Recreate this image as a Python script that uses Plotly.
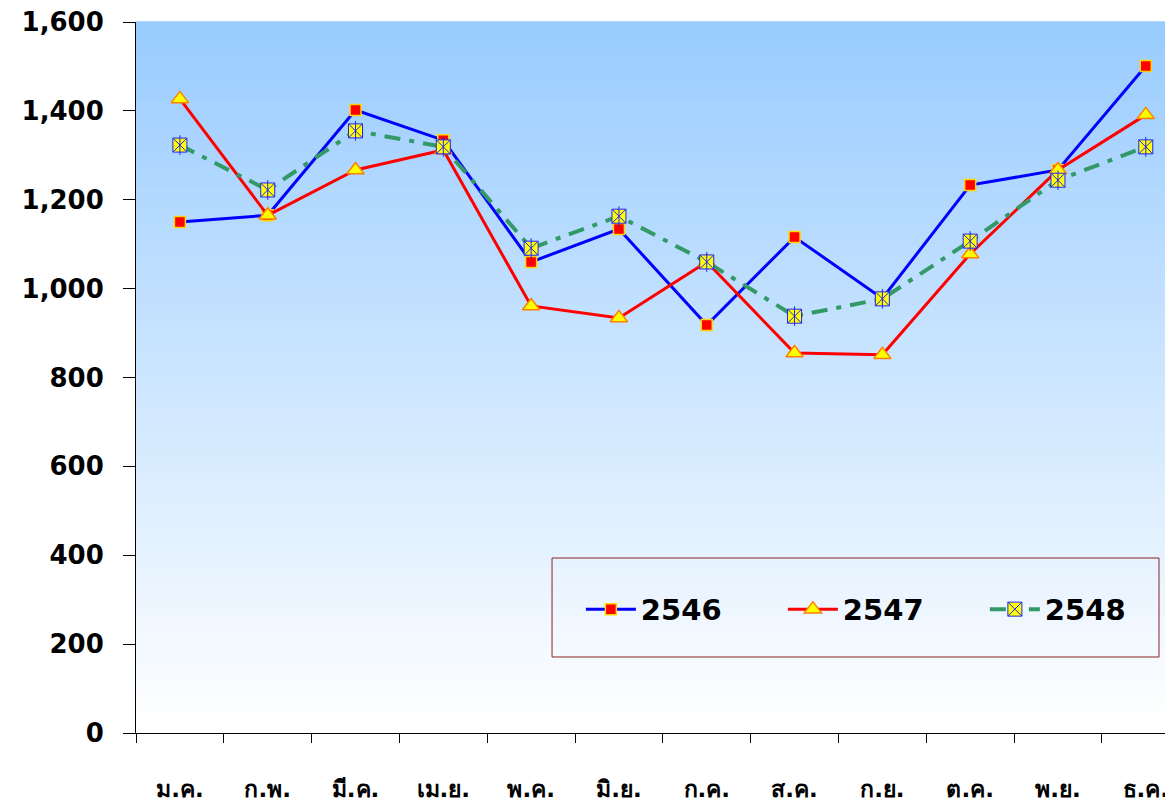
import plotly.graph_objects as go

months = ["ม.ค.", "ก.พ.", "มี.ค.", "เม.ย.", "พ.ค.", "มิ.ย.", "ก.ค.", "ส.ค.", "ก.ย.", "ต.ค.", "พ.ย.", "ธ.ค."]
y2546 = [1150, 1165, 1402, 1334, 1060, 1134, 918, 1116, 978, 1233, 1267, 1501]
y2547 = [1427, 1165, 1267, 1312, 961, 934, 1060, 855, 851, 1078, 1267, 1391]
y2548 = [1323, 1222, 1355, 1319, 1091, 1163, 1060, 938, 977, 1107, 1244, 1319]
yticks = [0, 200, 400, 600, 800, 1000, 1200, 1400, 1600]
ytick_text = ["0", "200", "400", "600", "800", "1,000", "1,200", "1,400", "1,600"]

fig = go.Figure()

# gradient background bands
n = 80
top = (0x99, 0xCC, 0xFF)
bot = (0xFF, 0xFF, 0xFF)
shapes = []
for i in range(n):
    t = i / (n - 1)
    c = tuple(int(round(top[k] + (bot[k] - top[k]) * t)) for k in range(3))
    shapes.append(dict(type="rect", xref="x domain", yref="y domain",
                       x0=0, x1=1, y0=1 - (i + 1) / n, y1=1 - i / n + 0.001,
                       fillcolor="rgb(%d,%d,%d)" % c, line=dict(width=0), layer="below"))
# legend box
shapes.append(dict(type="rect", xref="paper", yref="paper", x0=0.4012, x1=0.9865,
                   y0=0.1069, y1=0.2461, line=dict(color="#8B2323", width=1),
                   fillcolor="rgba(0,0,0,0)", layer="above"))

fig.add_trace(go.Scatter(x=months, y=y2546, name="2546", mode="lines+markers",
                         line=dict(color="#0000FF", width=3),
                         marker=dict(symbol="square", size=11, color="#FF0000",
                                     line=dict(color="#FFD700", width=1.5))))
fig.add_trace(go.Scatter(x=months, y=y2547, name="2547", mode="lines+markers",
                         line=dict(color="#FF0000", width=3),
                         marker=dict(symbol="triangle-up", size=15, color="#FFFF00",
                                     line=dict(color="#FF8000", width=1.5))))
fig.add_trace(go.Scatter(x=months, y=y2548, name="2548", mode="lines+markers",
                         line=dict(color="#339966", width=4, dash="16px,9px,5px,9px"),
                         marker=dict(symbol="square-x", size=14, color="#FFFF00",
                                     line=dict(color="#2020FF", width=1))))
fig.add_trace(go.Scatter(x=months, y=y2548, mode="markers", showlegend=False, hoverinfo="skip",
                         marker=dict(symbol="line-ns", size=14, color="#2020FF",
                                     line=dict(color="#2020FF", width=1))))

fig.update_layout(
    width=1165, height=796,
    margin=dict(l=128, r=0, t=14, b=71, autoexpand=False),
    paper_bgcolor="white",
    plot_bgcolor="white",
    shapes=shapes,
    showlegend=True,
    legend=dict(orientation="h", x=0.4290, y=0.1740, xanchor="left", yanchor="middle",
                bgcolor="rgba(255,255,255,0)", borderwidth=0,
                font=dict(family="DejaVu Sans", size=29, color="black", weight="bold"),
                itemwidth=50, entrywidth=137, entrywidthmode="pixels"),
    font=dict(family="DejaVu Sans", color="black"),
)
fig.update_xaxes(range=[-0.5, 11.31], showline=True, linecolor="black", linewidth=1,
                 ticks="outside", tickson="boundaries", ticklen=9, tickcolor="black",
                 tickangle=0, ticklabeloverflow="allow",
                 tickfont=dict(family="DejaVu Sans", size=23, color="black", weight="bold"),
                 ticklabelstandoff=35, showgrid=False, zeroline=False)
fig.update_yaxes(range=[0, 1600], tickvals=yticks, ticktext=ytick_text,
                 showline=True, linecolor="black", linewidth=1,
                 ticks="outside", ticklen=12, tickcolor="black",
                 ticklabeloverflow="allow",
                 tickfont=dict(family="DejaVu Sans", size=26, color="black", weight="bold"),
                 ticklabelstandoff=14, showgrid=False, zeroline=False)

fig.write_html("out.html")
